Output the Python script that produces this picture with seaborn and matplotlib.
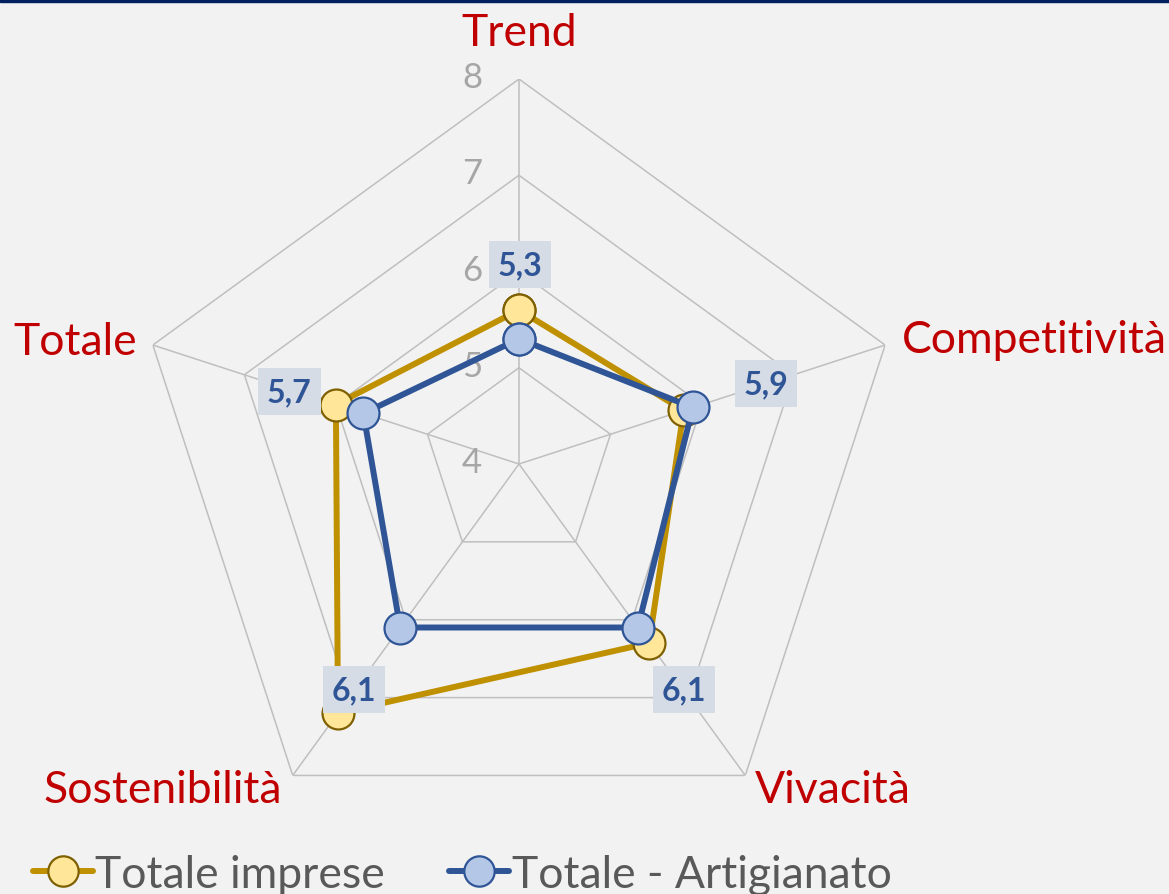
import numpy as np
import pandas as pd
import matplotlib
matplotlib.use("Agg")
import matplotlib.pyplot as plt
import seaborn as sns

categories = ["Trend", "Competitività", "Vivacità", "Sostenibilità", "Totale"]
totale_imprese = [5.6, 5.8, 6.3, 7.2, 6.0]
artigianato = [5.3, 5.9, 6.1, 6.1, 5.7]
levels = [4, 5, 6, 7, 8]
series_names = ["Totale imprese", "Totale - Artigianato"]

sns.set_theme(style="white")
plt.rcParams["font.family"] = ["Lato", "DejaVu Sans"]

BG = "#F2F2F2"
GRID = "#BFBFBF"
RED = "#C00000"
GOLD = "#BF9000"
BLUE = "#2F5597"

n = len(categories)
angles = np.linspace(0, 2 * np.pi, n, endpoint=False)
angles_closed = np.append(angles, 2 * np.pi)

fig = plt.figure(figsize=(11.69, 8.95), dpi=100, facecolor=BG)
ax = fig.add_axes([0.1146, 0.0503, 0.6587, 0.8603], projection="polar")
ax.set_facecolor("none")
ax.set_theta_offset(np.pi / 2)
ax.set_theta_direction(-1)
ax.set_ylim(levels[0], levels[-1])
ax.grid(False)
ax.spines["polar"].set_visible(False)
ax.set_xticks([])
ax.set_yticks([])

# polygon grid and spokes
for lv in levels[1:]:
    ax.plot(angles_closed, [lv] * (n + 1), color=GRID, lw=1.1, zorder=1)
for a in angles:
    ax.plot([a, a], [levels[0], levels[-1]], color=GRID, lw=1.1, zorder=1)

# tick labels along the top axis
for lv in levels:
    ax.annotate(str(lv), xy=(0, lv), xytext=(-47, 2), textcoords="offset pixels",
                ha="center", va="center", fontsize=25, color="#A6A6A6",
                annotation_clip=False)

# category labels
cat_offsets = [(0, 47, "center"), (17, 6, "left"), (10, -14, "left"),
               (-11, -14, "right"), (-16, 4, "right")]
for a, name, (dx, dy, ha) in zip(angles, categories, cat_offsets):
    ax.annotate(name, xy=(a, levels[-1]), xytext=(dx, dy), textcoords="offset pixels",
                ha=ha, va="center", fontsize=32, color=RED, annotation_clip=False)

df = pd.DataFrame({
    "theta": np.concatenate([angles_closed, angles_closed]),
    "value": totale_imprese + totale_imprese[:1] + artigianato + artigianato[:1],
    "serie": [series_names[0]] * (n + 1) + [series_names[1]] * (n + 1),
})

styles = {
    series_names[0]: dict(color=GOLD, mfc="#FFE699", mec="#7F6000"),
    series_names[1]: dict(color=BLUE, mfc="#B4C7E7", mec="#2F5597"),
}
for i, name in enumerate(series_names):
    sub = df[df["serie"] == name]
    st = styles[name]
    sns.lineplot(data=sub, x="theta", y="value", ax=ax, sort=False, estimator=None,
                 color=st["color"], lw=4.3, marker="o", markersize=23,
                 markerfacecolor=st["mfc"], markeredgecolor=st["mec"],
                 markeredgewidth=1.6, label=name, zorder=3 + i, clip_on=False)

# data labels for the artigianato series
lab_offsets = [(1, 74), (73, 24), (46, -62), (-46, -62), (-74, 22)]
for a, v, (dx, dy) in zip(angles, artigianato, lab_offsets):
    ax.annotate(f"{v:.1f}".replace(".", ","), xy=(a, v), xytext=(dx, dy),
                textcoords="offset pixels", ha="center", va="center",
                fontsize=23, fontweight="bold", color=BLUE, zorder=6,
                bbox=dict(boxstyle="square,pad=0.28", fc="#D6DCE5", ec="none"),
                annotation_clip=False)

leg = ax.legend(loc="center left", bbox_to_anchor=(-0.006, 0.022), bbox_transform=fig.transFigure,
                ncol=2, frameon=False, fontsize=32, handlelength=1.35, handletextpad=0.05,
                columnspacing=1.45, markerscale=0.95)
for t in leg.get_texts():
    t.set_color("#595959")

# dark top border
fig.add_artist(plt.Rectangle((0, 0.9965), 1, 0.0035, transform=fig.transFigure,
                             color="#002060", zorder=10))

fig.savefig("out.png", dpi=100, facecolor=BG)
